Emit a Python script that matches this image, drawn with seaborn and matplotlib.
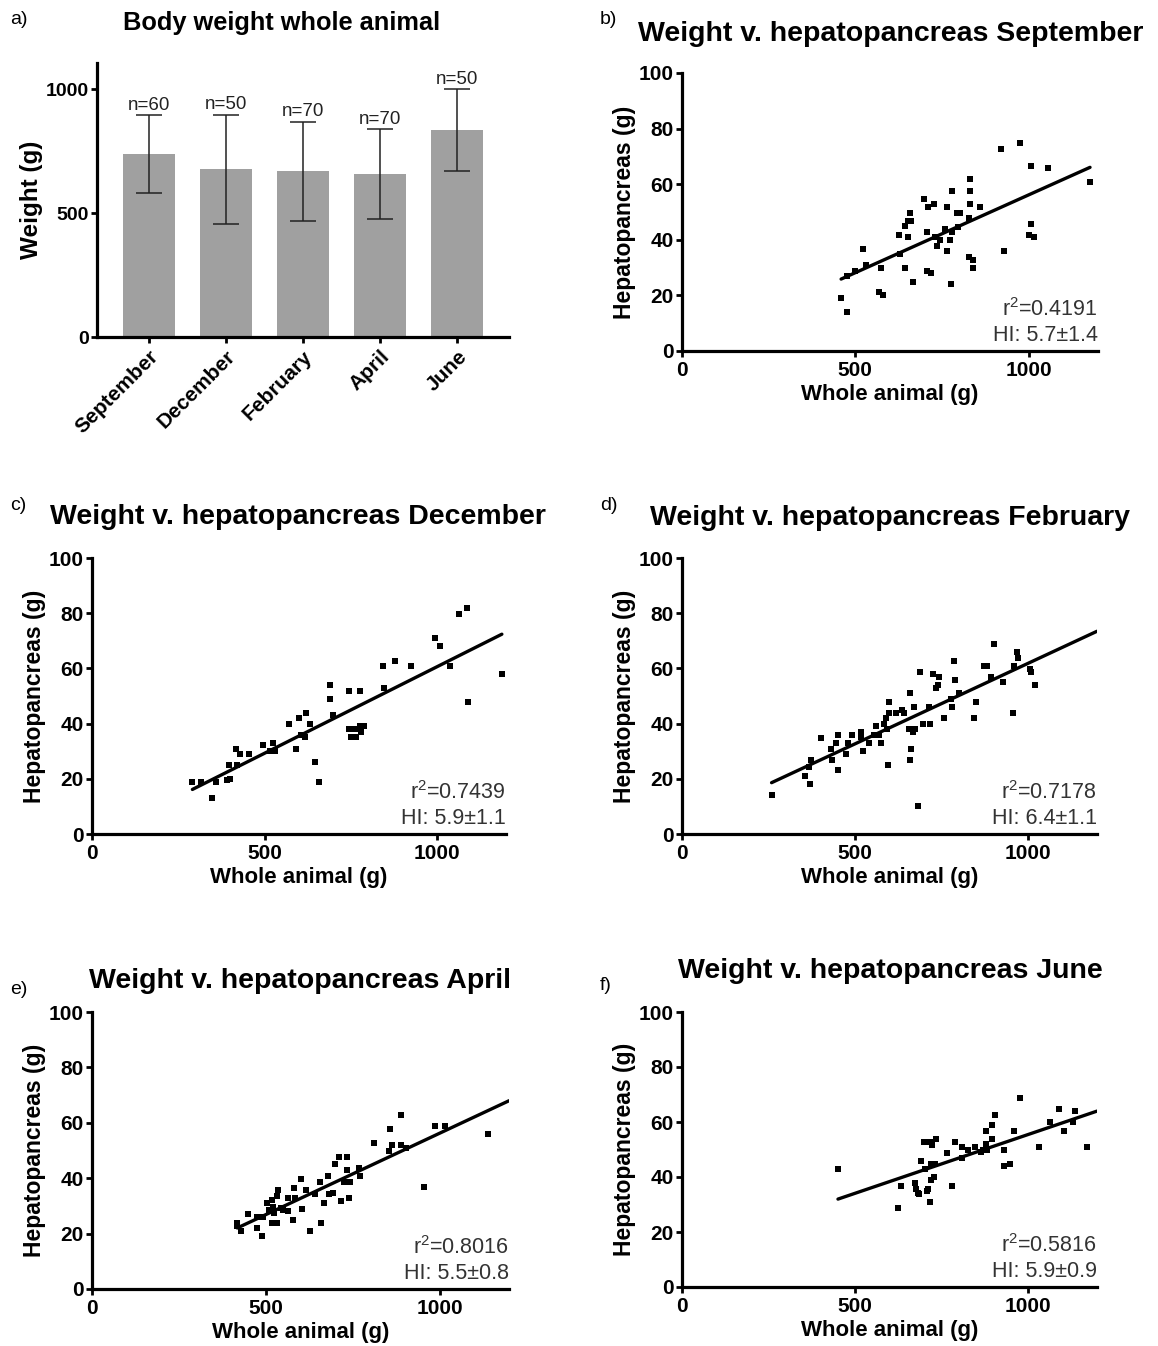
import numpy as np
import matplotlib
matplotlib.use("Agg")
import matplotlib.pyplot as plt
import seaborn as sns

# ---- panel a: body weight per month (mean, SD, n) ----
MONTHS = ["September", "December", "February", "April", "June"]
MEAN_WEIGHT = [737, 676, 668, 657, 834]
SD_WEIGHT = [158, 220, 199, 181, 165]
N_ANIMALS = [60, 50, 70, 70, 50]

# ---- panels b-f: whole animal (g) vs hepatopancreas (g) ----
SEP_X = [459, 476, 476, 498, 522, 531, 567, 579, 575, 626, 629, 643, 642, 651, 658, 662, 653, 665,
         698, 707, 711, 727, 708, 718, 731, 737, 744, 758, 763, 765, 773, 776, 778, 779, 794, 803,
         795, 828, 828, 839, 839, 831, 831, 831, 859, 921, 928, 976, 1008, 1008, 1000, 1016, 1056, 1177]
SEP_Y = [18.9, 14.1, 27.0, 28.9, 36.8, 30.9, 21.1, 20.0, 30.0, 41.7, 34.8, 30.0, 45.0, 46.8, 49.8, 46.8,
         41.1, 24.9, 54.8, 42.8, 51.9, 52.9, 28.9, 27.9, 41.1, 37.9, 39.8, 43.9, 36.0, 51.8, 39.8, 24.0,
         57.7, 42.8, 49.8, 49.8, 44.7, 47.7, 33.9, 32.7, 30.0, 61.8, 57.7, 52.8, 51.8, 72.5, 36.0, 74.7,
         66.5, 45.8, 41.7, 40.9, 65.7, 60.7]

DEC_X = [291, 316, 349, 358, 391, 401, 398, 420, 418, 428, 456, 497, 516, 526, 529, 572, 592, 600,
         606, 618, 621, 631, 647, 657, 691, 691, 698, 744, 778, 746, 755, 750, 765, 770, 780, 787,
         778, 844, 846, 878, 925, 994, 1009, 1037, 1065, 1088, 1090, 1188]
DEC_Y = [19.0, 19.0, 13.0, 19.0, 19.4, 19.9, 25.0, 25.0, 30.9, 29.1, 29.1, 32.1, 30.0, 33.0, 30.0, 40.0,
         30.9, 42.0, 36.0, 35.0, 44.0, 40.0, 26.0, 19.0, 54.0, 48.9, 43.0, 51.9, 51.9, 38.0, 38.0, 35.0,
         35.0, 38.0, 36.8, 39.0, 39.0, 60.7, 52.9, 62.8, 60.7, 70.9, 68.0, 60.7, 79.8, 81.9, 47.8, 58.0]

FEB_X = [259, 357, 371, 366, 372, 403, 435, 432, 444, 450, 452, 474, 480, 493, 518, 517, 522, 540,
         554, 561, 571, 574, 597, 584, 589, 593, 598, 599, 618, 635, 641, 660, 656, 667, 673, 661,
         659, 671, 681, 687, 696, 717, 713, 727, 742, 739, 735, 758, 778, 782, 786, 788, 801, 845,
         849, 873, 881, 893, 903, 927, 958, 961, 968, 973, 1005, 1010, 1022]
FEB_Y = [14.0, 21.1, 18.1, 24.2, 26.9, 34.9, 26.9, 30.9, 33.0, 36.0, 23.1, 29.0, 33.0, 36.0, 37.0, 35.0,
         30.0, 33.0, 36.0, 39.0, 36.0, 33.0, 25.1, 40.0, 41.9, 38.0, 44.0, 47.8, 44.0, 44.9, 44.0, 51.0,
         38.0, 37.0, 38.0, 30.9, 26.9, 45.9, 10.0, 58.8, 40.0, 40.0, 45.9, 58.0, 56.9, 54.0, 53.0, 41.9,
         48.9, 45.9, 62.8, 55.9, 51.0, 41.9, 47.8, 60.7, 60.7, 56.8, 68.8, 55.0, 44.0, 60.7, 65.8, 63.9,
         59.9, 58.8, 54.0]

APR_X = [418, 418, 430, 448, 474, 474, 489, 493, 504, 509, 517, 519, 522, 525, 531, 533, 536, 543,
         551, 564, 565, 579, 582, 583, 601, 603, 617, 628, 641, 657, 659, 668, 678, 682, 693, 699,
         712, 716, 726, 734, 734, 741, 743, 768, 770, 811, 854, 857, 863, 890, 890, 904, 955, 987,
         1015, 1139]
APR_Y = [24.0, 22.6, 21.0, 27.1, 22.0, 25.9, 19.0, 25.9, 31.0, 28.6, 24.0, 32.2, 29.5, 27.4, 24.0, 33.4,
         35.8, 29.2, 28.6, 28.0, 32.8, 25.0, 36.6, 32.8, 39.7, 28.9, 35.8, 21.0, 34.2, 38.8, 24.0, 31.0,
         40.8, 34.2, 34.8, 45.0, 47.8, 31.8, 38.8, 47.8, 43.0, 32.8, 38.8, 43.8, 40.9, 52.8, 49.8, 57.7,
         51.9, 62.8, 51.9, 50.8, 37.0, 58.9, 58.9, 55.8]

JUN_X = [451, 624, 632, 675, 677, 682, 685, 692, 701, 704, 708, 711, 716, 716, 723, 719, 721, 730,
         733, 735, 766, 780, 789, 809, 811, 827, 847, 864, 871, 878, 882, 878, 895, 895, 906, 931,
         931, 949, 960, 978, 1033, 1063, 1089, 1106, 1130, 1136, 1172]
JUN_Y = [42.9, 28.8, 36.8, 37.8, 35.8, 34.2, 33.9, 45.7, 52.7, 43.0, 34.8, 35.8, 30.8, 52.7, 51.5, 38.8,
         44.8, 40.0, 44.8, 53.9, 48.8, 36.7, 52.7, 46.9, 50.8, 49.7, 50.8, 49.0, 49.8, 52.1, 49.7, 56.7,
         53.8, 58.8, 62.7, 49.7, 43.9, 44.8, 56.7, 68.8, 50.8, 59.9, 64.6, 56.7, 59.9, 63.9, 50.8]

SCATTER_MONTHS = ["September", "December", "February", "April", "June"]
R2_TEXT = ["0.4191", "0.7439", "0.7178", "0.8016", "0.5816"]
HI_TEXT = ["5.7±1.4", "5.9±1.1", "6.4±1.1", "5.5±0.8", "5.9±0.9"]
LINE_TO_AXIS_END = [False, False, True, True, True]

W, H = 1158, 1346

sns.set_theme(style="ticks")
plt.rcParams["font.family"] = ["Liberation Sans", "DejaVu Sans"]
plt.rcParams["mathtext.fontset"] = "custom"
plt.rcParams["mathtext.rm"] = "Liberation Sans"
plt.rcParams["mathtext.default"] = "regular"
plt.rcParams["text.color"] = "black"
plt.rcParams["axes.labelcolor"] = "black"
plt.rcParams["axes.linewidth"] = 2.3
plt.rcParams["xtick.major.width"] = 2.0
plt.rcParams["ytick.major.width"] = 2.0
plt.rcParams["xtick.major.size"] = 4.5
plt.rcParams["ytick.major.size"] = 4.5
plt.rcParams["xtick.major.pad"] = 2.5
plt.rcParams["ytick.major.pad"] = 1.5
plt.rcParams["xtick.color"] = "black"
plt.rcParams["ytick.color"] = "black"
plt.rcParams["axes.edgecolor"] = "black"

fig = plt.figure(figsize=(W / 100, H / 100), dpi=100)


def px_axes(left, top, right, bottom):
    return fig.add_axes([left / W, 1 - bottom / H, (right - left) / W, (bottom - top) / H])


def fig_text(x, y, s, **kw):
    fig.text(x / W, 1 - y / H, s, **kw)


# ---------------- panel a ----------------
ax = px_axes(97, 63, 509, 337)
sns.barplot(x=MONTHS, y=MEAN_WEIGHT, color="#a0a0a0", saturation=1, width=0.67,
            linewidth=0, errorbar=None, ax=ax)
ax.errorbar(range(len(MONTHS)), MEAN_WEIGHT, yerr=SD_WEIGHT, fmt="none",
            ecolor="#222222", elinewidth=1.1, capsize=9.5, capthick=1.1)
for i, (m, sd, n) in enumerate(zip(MEAN_WEIGHT, SD_WEIGHT, N_ANIMALS)):
    ax.annotate(f"n={n}", (i, m + sd), xytext=(0, 4), textcoords="offset points",
                ha="center", va="baseline", fontsize=13.5, color="#222222")
ax.set_xlim(-0.67, 4.67)
ax.set_ylim(0, 1105)
ax.set_yticks([0, 500, 1000])
ax.set_ylabel("Weight (g)", fontsize=17.5, fontweight="bold", labelpad=2)
ax.set_xlabel("")
plt.setp(ax.get_yticklabels(), fontsize=14, fontweight="bold")
plt.setp(ax.get_xticklabels(), fontsize=15, fontweight="bold", rotation=45,
         ha="right", rotation_mode="anchor")
sns.despine(ax=ax)

fig_text(282, 23, "Body weight whole animal", fontsize=18.3, fontweight="bold", ha="center", va="center")
fig_text(10, 20, "a)", fontsize=14, ha="left", va="center")

# ---------------- panels b-f ----------------
scatter_data = [(SEP_X, SEP_Y), (DEC_X, DEC_Y), (FEB_X, FEB_Y), (APR_X, APR_Y), (JUN_X, JUN_Y)]
boxes = [(682, 73, 1098, 351), (92, 558, 506, 834), (682, 558, 1097, 834),
         (92, 1012, 509, 1289), (682, 1012, 1097, 1287)]
title_pos = [(891, 34), (298, 517), (890, 518), (300, 981), (890, 971)]
label_pos = [(600, 20), (10, 505), (600, 505), (10, 990), (600, 985)]
letters = ["b)", "c)", "d)", "e)", "f)"]

for k, (xs, ys) in enumerate(scatter_data):
    ax = px_axes(*boxes[k])
    xs = np.asarray(xs, dtype=float)
    ys = np.asarray(ys, dtype=float)
    sns.scatterplot(x=xs, y=ys, marker="s", s=24, color="black", linewidth=0, ax=ax)

    slope, icpt = np.polyfit(xs, ys, 1)
    x_end = 1200 if LINE_TO_AXIS_END[k] else xs.max()
    line_x = np.array([xs.min(), x_end])
    ax.plot(line_x, slope * line_x + icpt, color="black", linewidth=2.4)

    ax.set_xlim(0, 1200)
    ax.set_ylim(0, 100)
    ax.set_xticks([0, 500, 1000])
    ax.set_yticks([0, 20, 40, 60, 80, 100])
    ax.set_xlabel("Whole animal (g)", fontsize=16, fontweight="bold", labelpad=3)
    ax.set_ylabel("Hepatopancreas (g)", fontsize=16.5, fontweight="bold", labelpad=2)
    plt.setp(ax.get_xticklabels() + ax.get_yticklabels(), fontsize=15, fontweight="bold")
    sns.despine(ax=ax)

    ax.text(1.0, 0.15, f"r$^{{2}}$={R2_TEXT[k]}", transform=ax.transAxes, ha="right", va="center",
            fontsize=15.5, color="#333333")
    ax.text(1.0, 0.055, f"HI: {HI_TEXT[k]}", transform=ax.transAxes, ha="right", va="center",
            fontsize=15.5, color="#333333")

    tx, ty = title_pos[k]
    fig_text(tx, ty, f"Weight v. hepatopancreas {SCATTER_MONTHS[k]}", fontsize=20.5,
             fontweight="bold", ha="center", va="center")
    lx, ly = label_pos[k]
    fig_text(lx, ly, letters[k], fontsize=14, ha="left", va="center")

fig.savefig("out.png", dpi=100)
